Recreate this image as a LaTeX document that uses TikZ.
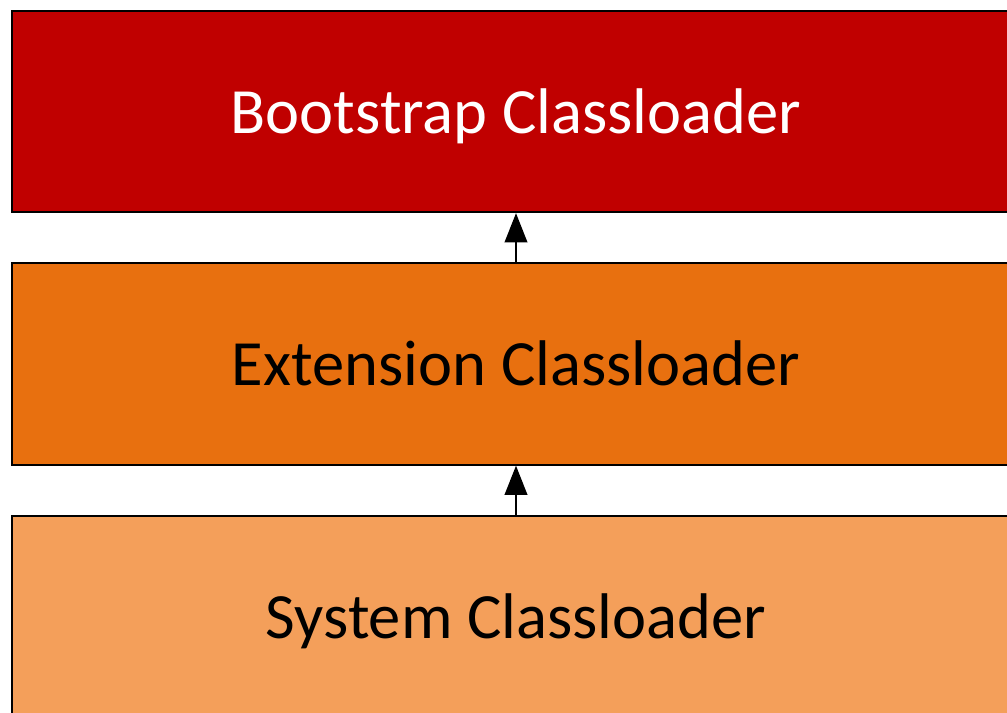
\documentclass[tikz,border=0pt]{standalone}
\usepackage{fontspec}
\setmainfont{Carlito}
\usetikzlibrary{arrows.meta}
\definecolor{bootred}{HTML}{C00000}
\definecolor{extorange}{HTML}{E8700F}
\definecolor{syslight}{HTML}{F49F5A}
\tikzset{
  loaderbox/.style={draw=black, line width=1.5pt, minimum width=756pt, minimum height=151pt,
    inner sep=0pt, text height=32.7pt, text depth=0pt, font=\fontsize{48.4}{58}\selectfont},
  upto/.style={-{Triangle[length=22pt,width=17pt]}, line width=1.5pt}
}
\begin{document}
\begin{tikzpicture}[x=0.75pt,y=0.75pt]
				% Khung
				\useasboundingbox (0,0) rectangle (1007,713);
				\clip (0,0) rectangle (1007,713);
				% Các lớp nạp
				\node[loaderbox, fill=bootred, text=white] (boot) at (516,601.5) {Bootstrap Classloader};
				\node[loaderbox, fill=extorange] (ext) at (516,349) {Extension Classloader};
				\node[loaderbox, fill=syslight] (sys) at (516,96.5) {System Classloader};
				% Mũi tên
				\draw[upto] (ext.north) -- (boot.south);
				\draw[upto] (sys.north) -- (ext.south);
\end{tikzpicture}
\end{document}
